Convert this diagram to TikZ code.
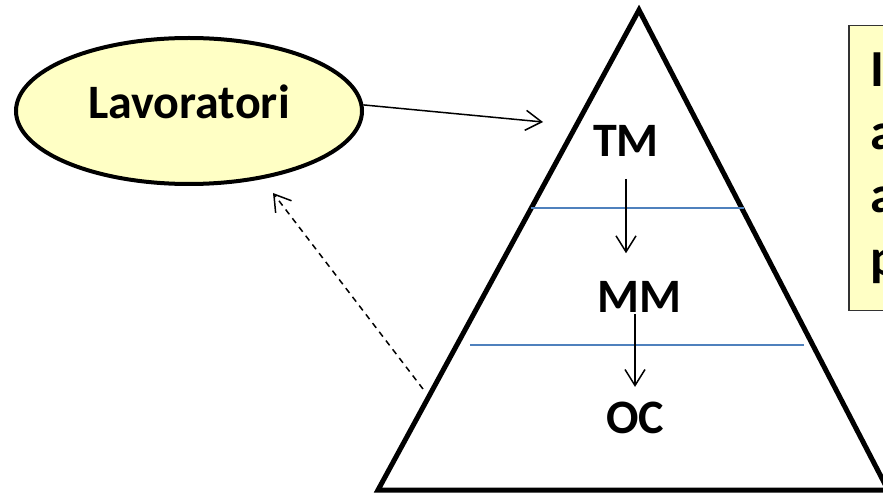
\documentclass[tikz,border=0pt]{standalone}
\usepackage{fontspec}
\setmainfont{Carlito}
\usetikzlibrary{shapes.geometric,arrows.meta}
\definecolor{paleyellow}{RGB}{255,255,197}
\definecolor{levelblue}{RGB}{79,129,189}
\begin{document}
\begin{tikzpicture}[x=1pt,y=-1pt]
    \tikzstyle{level}=[inner sep=0pt, font=\fontsize{48}{58}\selectfont\bfseries]
    \tikzstyle{thinarrow}=[line width=1.5pt, -{Straight Barb[length=16pt,width=20pt]}]
    \clip (0,0) rectangle (883,494);

    % workers
    \node[ellipse, draw, line width=4pt, fill=paleyellow, minimum width=346pt,
          minimum height=146pt, text depth=18pt,
          font=\fontsize{48}{58}\selectfont\bfseries] (lav) at (189,111) {Lavoratori};

    % pyramid
    \coordinate (apex)  at (639,10);
    \coordinate (baseL) at (378,490);
    \coordinate (baseR) at (888,490);
    \draw[line width=5pt] (apex) -- (baseL) -- (baseR) -- cycle;

    \draw[levelblue, line width=2pt] (531,208) -- (744,208)
                                     (470,345) -- (804,345);

    \node[level] (tm) at (626,141) {TM};
    \node[level] (mm) at (639,297) {MM};
    \node[level] (oc) at (635,418) {OC};

    \draw[thinarrow, shorten <=22pt, shorten >=28pt] (tm.south) -- (tm.south |- mm.north);
    \draw[thinarrow, shorten <=1pt, shorten >=15pt]  (oc.north |- mm.south) -- (oc.north);

    % in and back
    \coordinate (apexin)  at (543,122);
    \coordinate (sidept)  at (423,389);
    \coordinate (backpt)  at (273,193);
    \draw[thinarrow] (lav.2) -- (apexin);
    \draw[thinarrow, dash pattern=on 6pt off 5pt] (sidept) -- (backpt);

    % note on the right
    \node[draw=black!80, line width=1.5pt, fill=paleyellow, anchor=north west,
          align=left, text width=120pt, minimum height=282pt,
          inner xsep=22pt, inner ysep=27pt,
          font=\fontsize{52}{63}\selectfont\bfseries] (note) at (848,25) {I\\a\\a\\p};

\end{tikzpicture}
\end{document}
